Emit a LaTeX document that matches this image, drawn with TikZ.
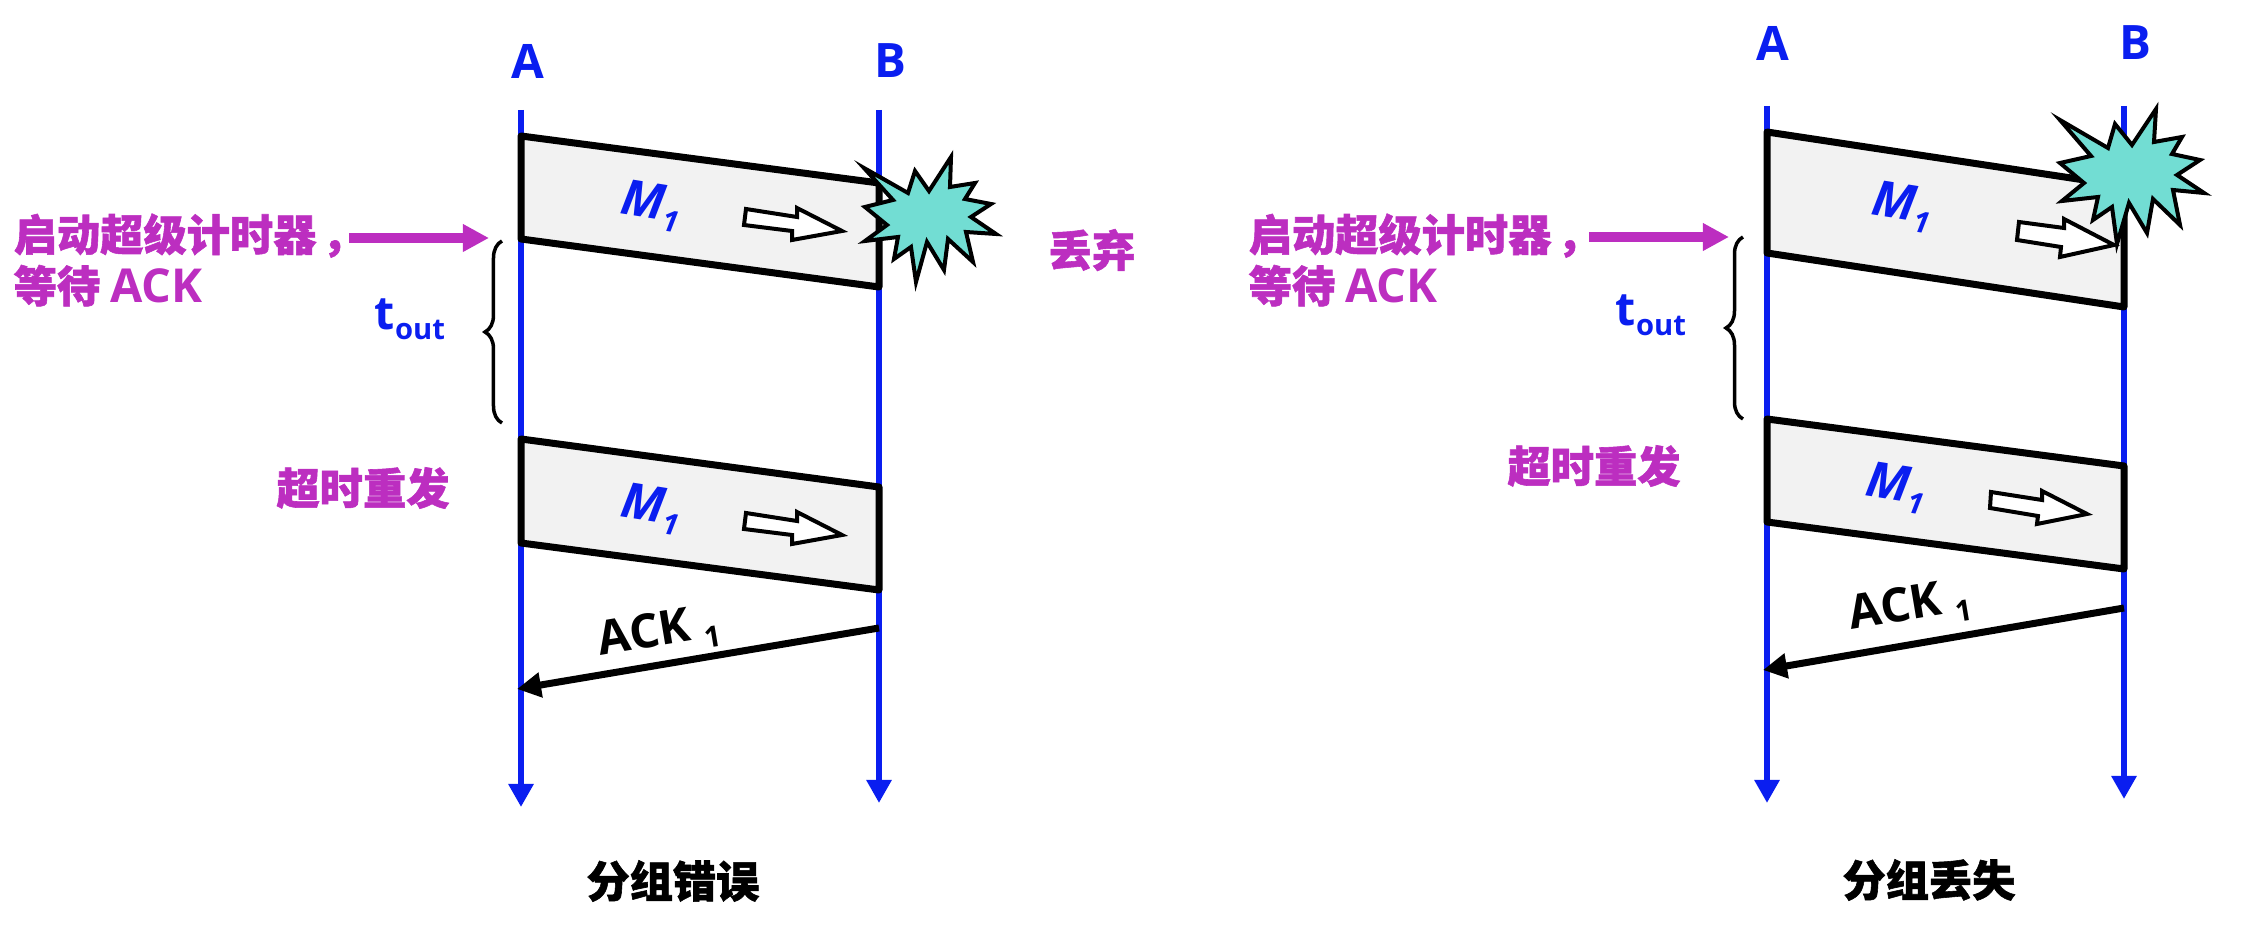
\documentclass[tikz,border=0pt]{standalone}
\usepackage{fontspec}
\setmainfont{Open Sans}
\newfontfamily\cjk{Noto Sans CJK SC}[BoldFeatures={FakeBold=1.3}]
\usetikzlibrary{arrows.meta,decorations.pathreplacing}
\definecolor{lineblue}{HTML}{0A1EF0}
\definecolor{notemag}{HTML}{BC2EC0}
\definecolor{bursteal}{HTML}{72DDD3}
\definecolor{packetgray}{HTML}{F2F2F2}
\newcommand{\lowtext}[1]{\raisebox{-0.22em}{\fontsize{8.3pt}{9pt}\selectfont #1}}
\tikzset{
  lifeline/.style={draw=lineblue,line width=0.065cm,-{Triangle[length=0.23cm,width=0.24cm]}},
  endname/.style={inner sep=0pt,text=lineblue,font=\fontsize{13.5pt}{15pt}\selectfont\bfseries},
  packet/.style={draw=black,fill=packetgray,line width=0.07cm,line join=round},
  hollow/.style={draw=black,fill=white,line width=0.04cm,miter limit=10},
  burst/.style={draw=black,fill=bursteal,line width=0.04cm,miter limit=10},
  ackline/.style={draw=black,line width=0.07cm,-{Triangle[length=0.24cm,width=0.24cm]}},
  startline/.style={draw=notemag,line width=0.1cm,-{Triangle[length=0.26cm,width=0.26cm]}},
  timebrace/.style={draw=black,line width=0.035cm,decorate,decoration={brace,amplitude=0.17cm}},
  notetext/.style={inner sep=0pt,text=notemag,align=left,font=\cjk\fontsize{12.3pt}{14.6pt}\selectfont\bfseries},
  titletext/.style={inner sep=0pt,text=black,font=\cjk\fontsize{12.3pt}{14pt}\selectfont\bfseries},
  pktname/.style={inner sep=0pt,text=lineblue,font=\fontsize{14pt}{15pt}\selectfont\bfseries\itshape},
  timename/.style={inner sep=0pt,text=lineblue,font=\fontsize{13.2pt}{15pt}\selectfont\bfseries},
  ackname/.style={inner sep=0pt,text=black,font=\fontsize{13.4pt}{15pt}\selectfont\bfseries}
}
\begin{document}
\begin{tikzpicture}[x=0.01cm,y=-0.01cm]
  \useasboundingbox (0,0) rectangle (2244,952);
  \coordinate (atopL) at (521,110);
  \coordinate (aendL) at (521,807);
  \coordinate (btopL) at (879,110);
  \coordinate (bendL) at (879,803);
  \coordinate (atopR) at (1767,106);
  \coordinate (aendR) at (1767,803);
  \coordinate (btopR) at (2124,106);
  \coordinate (bendR) at (2124,799);
  \node[endname] (nameAL) at (528,61) {A};
  \node[endname] (nameBL) at (890,61) {B};
  \node[endname] (nameAR) at (1773,43) {A};
  \node[endname] (nameBR) at (2135,43) {B};
  \draw[lifeline] (atopL) -- (aendL);
  \draw[lifeline] (btopL) -- (bendL);
  \draw[lifeline] (atopR) -- (aendR);
  \draw[lifeline] (btopR) -- (bendR);
  \draw[packet] (521,136) -- (879,183) -- (879,287) -- (521,239) -- cycle;
  \draw[packet] (521,439) -- (879,487) -- (879,590) -- (521,543) -- cycle;
  \draw[packet] (1767,132) -- (2124,186) -- (2124,307) -- (1767,253) -- cycle;
  \draw[packet] (1767,419) -- (2124,466) -- (2124,569) -- (1767,522) -- cycle;
  \foreach \dy in {0,304} {
    \draw[hollow,yshift=-\dy*0.01cm] (746,209) -- (797,217) -- (797,208) -- (842,231)
      -- (792,240) -- (792,231) -- (744,225) -- cycle;
  }
  \draw[hollow] (2019,222) -- (2064,228) -- (2064,219) -- (2114,245) -- (2060,257)
    -- (2061,247) -- (2017,240) -- cycle;
  \draw[hollow] (1991,492) -- (2042,500) -- (2042,491) -- (2087,514) -- (2037,524)
    -- (2038,516) -- (1990,508) -- cycle;
  \draw[burst] (864,168) -- (908,193) -- (915,171) -- (929,191) -- (951,157) -- (950,187)
    -- (975,183) -- (965,199) -- (991,204) -- (971,217) -- (996,234) -- (966,232)
    -- (973,262) -- (948,239) -- (944,270) -- (927,242) -- (916,282) -- (911,247)
    -- (894,259) -- (898,237) -- (865,241) -- (887,225) -- (865,207) -- (893,200) -- cycle;
  \draw[burst] (2060,120) -- (2108,148) -- (2115,124) -- (2132,145) -- (2156,109) -- (2154,142)
    -- (2182,137) -- (2172,154) -- (2200,160) -- (2177,175) -- (2204,193) -- (2173,190)
    -- (2180,225) -- (2153,199) -- (2147,233) -- (2129,203) -- (2117,244) -- (2112,207)
    -- (2093,220) -- (2098,197) -- (2062,201) -- (2084,183) -- (2060,163) -- (2091,156) -- cycle;
  \node[pktname,rotate=-9] (pktAL) at (651,206) {M\lowtext{1}};
  \node[pktname,rotate=-9] (pktBL) at (651,509) {M\lowtext{1}};
  \node[pktname,rotate=-9] (pktAR) at (1902,207) {M\lowtext{1}};
  \node[pktname,rotate=-9] (pktBR) at (1896,488) {M\lowtext{1}};
  \coordinate (ackfromL) at (879,628);
  \coordinate (acktoL) at (517,689);
  \coordinate (ackfromR) at (2124,608);
  \coordinate (acktoR) at (1763,670);
  \draw[ackline] (ackfromL) -- (acktoL);
  \draw[ackline] (ackfromR) -- (acktoR);
  \node[ackname,rotate=9.5] (ackL) at (659,634) {ACK \lowtext{1}};
  \node[ackname,rotate=9.5] (ackR) at (1910,608) {ACK \lowtext{1}};
  \node[notetext,anchor=west] (timerL) at (13,260) {启动超级计时器\hspace{1.5pt}，\\等待 {\rmfamily\fontsize{13.3pt}{14.6pt}\selectfont ACK}};
  \node[notetext,anchor=west] (timerR) at (1248,260) {启动超级计时器\hspace{1.5pt}，\\等待 {\rmfamily\fontsize{13.3pt}{14.6pt}\selectfont ACK}};
  \coordinate (starttoL) at (489,238);
  \coordinate (starttoR) at (1729,237);
  \draw[startline] (349,238) -- (starttoL);
  \draw[startline] (1589,237) -- (starttoR);
  \coordinate (bracelowL) at (502,423);
  \coordinate (bracehighL) at (502,241);
  \coordinate (bracelowR) at (1743,419);
  \coordinate (bracehighR) at (1743,237);
  \draw[timebrace] (bracelowL) -- (bracehighL);
  \draw[timebrace] (bracelowR) -- (bracehighR);
  \node[timename] (toutL) at (410,319) {t\lowtext{out}};
  \node[timename] (toutR) at (1651,315) {t\lowtext{out}};
  \node[notetext] (resendL) at (363,488) {超时重发};
  \node[notetext] (resendR) at (1594,466) {超时重发};
  \node[notetext] (dropL) at (1092,250) {丢弃};
  \node[titletext] (titleL) at (673,881) {分组错误};
  \node[titletext] (titleR) at (1929,880) {分组丢失};
\end{tikzpicture}
\end{document}
